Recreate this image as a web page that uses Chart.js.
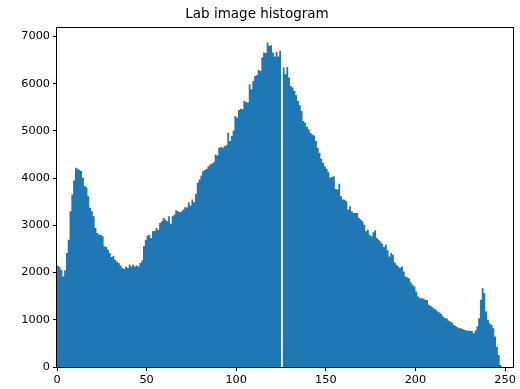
<!DOCTYPE html>
<html>
<head>
<meta charset="utf-8">
<title>Lab image histogram</title>
<script src="https://cdn.jsdelivr.net/npm/chart.js@4.4.1/dist/chart.umd.min.js"></script>
<style>
    html, body { margin: 0; padding: 0; background: #fff; }
    #wrap { width: 520px; height: 389px; }
</style>
</head>
<body>
<div id="wrap"><canvas id="histChart"></canvas></div>
<script>
// HISTOGRAM DATA -- one count per intensity bin (bin i covers [i, i+1))
const bins = Array.from({ length: 256 }, (_, i) => i)

const counts = [
    1705, 2144, 2115, 2050, 1918, 2050, 2413, 2696, 3298, 3652,
    3949, 4218, 4200, 4170, 4150, 4010, 3835, 3800, 3617, 3370,
    3298, 3192, 2944, 2837, 2802, 2800, 2767, 2555, 2540, 2484,
    2413, 2328, 2356, 2271, 2236, 2200, 2150, 2094, 2073, 2130,
    2094, 2165, 2130, 2165, 2130, 2150, 2130, 2200, 2257, 2555,
    2696, 2780, 2800, 2730, 2873, 2880, 2944, 2908, 3050, 3086,
    3156, 3121, 3086, 3192, 3036, 3192, 3227, 3320, 3298, 3277,
    3298, 3334, 3384, 3380, 3490, 3419, 3546, 3490, 3667, 3900,
    3970, 4055, 4147, 4170, 4200, 4253, 4289, 4310, 4338, 4501,
    4480, 4643, 4657, 4643, 4678, 4692, 4961, 4784, 4890, 5010,
    5315, 5280, 5442, 5471, 5460, 5634, 5612, 5600, 5987, 5881,
    6058, 6164, 6178, 6291, 6270, 6553, 6660, 6650, 6872, 6801,
    6815, 6660, 6575, 6674, 6575, 6695, 0, 6341, 6199, 6355,
    6128, 5952, 5917, 5846, 5754, 5634, 5541, 5421, 5209, 5173,
    5088, 5031, 4960, 4925, 4904, 4784, 4643, 4537, 4409, 4324,
    4253, 4197, 4126, 4006, 4027, 4041, 3772, 3758, 3878, 3616,
    3546, 3540, 3510, 3334, 3404, 3298, 3263, 3263, 3263, 3156,
    3121, 3086, 3015, 2873, 2908, 2802, 2767, 2851, 2894, 2731,
    2696, 2660, 2611, 2540, 2590, 2470, 2342, 2413, 2378, 2215,
    2165, 2130, 2094, 2130, 2024, 1918, 1897, 1882, 1790, 1741,
    1705, 1599, 1493, 1458, 1455, 1450, 1422, 1420, 1316, 1295,
    1267, 1238, 1210, 1175, 1154, 1125, 1068, 1033, 1030, 983,
    962, 941, 891, 870, 842, 821, 818, 800, 785, 771,
    770, 768, 764, 715, 771, 856, 1033, 1422, 1670, 1564,
    1175, 998, 927, 891, 821, 644, 431, 255, 42, 0,
    0, 0, 0, 0, 0, 0
]

const xTicks = [0, 50, 100, 150, 200, 250]
const yTicks = [0, 1000, 2000, 3000, 4000, 5000, 6000, 7000]

// matplotlib-ish look
const font = { family: "'DejaVu Sans', sans-serif", size: 11.3 }

// closed box around the plot area (all four spines)
let spines = {
    id: 'spines',
    afterDatasetsDraw: function (chart) {
        let a = chart.chartArea
        let ctx = chart.ctx
        ctx.save()
        ctx.strokeStyle = '#000'
        ctx.lineWidth = 1
        ctx.strokeRect(Math.round(a.left) - 0.5, Math.round(a.top) + 0.5,
            Math.round(a.right - a.left), Math.round(a.bottom - a.top))
        ctx.restore()
    }
}

var cnx = document.getElementById('histChart')

// bins drawn as one filled step outline, so neighbouring bars never show seams
var histChart = new Chart(cnx, {
    type: 'line',
    data: {
        datasets: [{
            data: bins.map((b, i) => ({ x: b, y: counts[i] })),
            stepped: 'after',
            fill: 'origin',
            backgroundColor: '#1f77b4',
            borderColor: 'rgba(0,0,0,0)',
            borderWidth: 0,
            pointRadius: 0
        }]
    },
    plugins: [spines],
    options: {
        responsive: true,
        maintainAspectRatio: false,
        animation: false,
        layout: { padding: { left: 0, right: 6, top: 0, bottom: 0 } },
        plugins: {
            legend: { display: false },
            tooltip: { enabled: false },
            title: {
                display: true,
                text: 'Lab image histogram',
                color: '#000',
                font: { family: font.family, size: 13.5, weight: 'normal' },
                padding: { top: 6, bottom: 4.8 }
            }
        },
        scales: {
            x: {
                type: 'linear',
                offset: false,
                min: 0,
                max: 255,
                afterBuildTicks: function (scale) {
                    scale.ticks = xTicks.map(v => ({ value: v }))
                },
                afterFit: function (scale) {
                    scale.height = 22
                },
                ticks: {
                    color: '#000', font: font, padding: 2, maxRotation: 0, autoSkip: false,
                    callback: v => String(v)
                },
                grid: { offset: false, drawOnChartArea: false, drawTicks: true, tickLength: 4, color: '#000' },
                border: { display: false }
            },
            y: {
                min: 0,
                max: 7200,
                afterBuildTicks: function (scale) {
                    scale.ticks = yTicks.map(v => ({ value: v }))
                },
                afterFit: function (scale) {
                    scale.width = 57
                },
                ticks: {
                    color: '#000', font: font, padding: 3, autoSkip: false,
                    callback: v => String(v)
                },
                grid: { offset: false, drawOnChartArea: false, drawTicks: true, tickLength: 4, color: '#000' },
                border: { display: false }
            }
        }
    }
})
</script>
</body>
</html>
